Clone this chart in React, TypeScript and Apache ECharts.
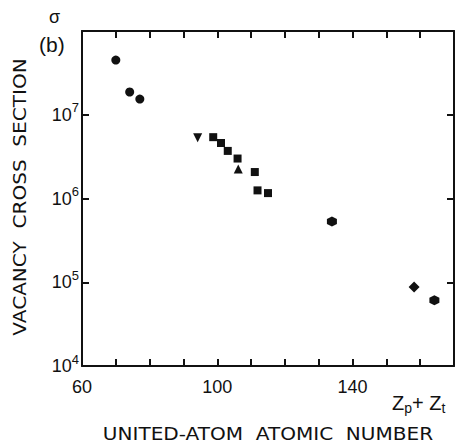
import React, { useEffect, useRef } from "react";
import * as echarts from "echarts";

const xTickLabels = [60, 100, 140];
const yTickExponents = [4, 5, 6, 7];
const circles = [[70, 4.5e7], [74.1, 1.87e7], [77.1, 1.54e7]];
const trianglesDown = [[94.2, 5.3e6]];
const squares = [[98.8, 5.4e6], [101.1, 4.6e6], [103.1, 3.7e6], [106.0, 3.0e6], [111.1, 2.07e6], [111.9, 1.25e6], [115.0, 1.16e6]];
const trianglesUp = [[106.2, 2.25e6]];
const hexagons = [[133.9, 5.3e5], [164.2, 6.1e4]];
const diamonds = [[158.2, 8.8e4]];

const HEX = "path://M0,-1 L0.866,-0.5 L0.866,0.5 L0,1 L-0.866,0.5 L-0.866,-0.5 Z";
const FONT = "Liberation Sans";
const TFONT = "DejaVu Sans";
const INK = "#111";
const G = { left: 82, right: 3, top: 31, bottom: 79 };
const W = 457;
const H = 445;

export default function App() {
  const ref = useRef<HTMLDivElement>(null);
  useEffect(() => {
    const chart = echarts.init(ref.current!, null, { renderer: "svg" });
    const axisLine = () => ({ show: true, onZero: false, lineStyle: { color: INK, width: 2 } });
    const tick = () => ({ show: true, inside: true, length: 7, lineStyle: { color: INK, width: 2 } });
    const sc = (name: string, data: number[][], symbol: string, size: number, rotate = 0) => ({
      name, type: "scatter", data, symbol, symbolSize: size, symbolRotate: rotate,
      itemStyle: { color: INK, opacity: 1 }, xAxisIndex: 0, yAxisIndex: 0,
    });
    chart.setOption({
      animation: false,
      backgroundColor: "#fff",
      grid: { ...G },
      xAxis: [
        {
          type: "value", min: 60, max: 170, interval: 10, position: "bottom",
          axisLine: axisLine(), axisTick: tick(), splitLine: { show: false },
          axisLabel: {
            margin: 12, color: INK, fontFamily: FONT, fontSize: 18,
            formatter: (v: number) => (xTickLabels.includes(v) ? String(v) : ""),
          },
        },
        {
          type: "value", min: 60, max: 170, interval: 10, position: "top",
          axisLine: axisLine(), axisTick: tick(), splitLine: { show: false }, axisLabel: { show: false },
        },
      ],
      yAxis: [
        {
          type: "log", logBase: 10, min: 1e4, max: 1e8, position: "left",
          axisLine: axisLine(), axisTick: tick(), splitLine: { show: false }, minorTick: { show: false },
          axisLabel: {
            margin: 3, color: INK, fontFamily: FONT,
            formatter: (v: number) => {
              const e = Math.round(Math.log10(v));
              return yTickExponents.includes(e) ? `{a|10}{s|${e}}` : "";
            },
            rich: {
              a: { fontSize: 18, fontFamily: FONT, color: INK },
              s: { fontSize: 13, fontFamily: FONT, color: INK, padding: [0, 0, 14, 0] },
            },
          },
        },
        {
          type: "log", logBase: 10, min: 1e4, max: 1e8, position: "right",
          axisLine: axisLine(), axisTick: tick(), splitLine: { show: false }, axisLabel: { show: false },
        },
      ],
      series: [
        sc("circles", circles, "circle", 9),
        sc("trianglesDown", trianglesDown, "triangle", 9, 180),
        sc("squares", squares, "rect", 8),
        sc("trianglesUp", trianglesUp, "triangle", 9),
        sc("hexagons", hexagons, HEX, 10),
        sc("diamonds", diamonds, "diamond", 11),
      ],
      graphic: [
        { type: "text", left: 49, top: 8, style: { text: "σ", fontSize: 18, fontFamily: FONT, fill: INK } },
        { type: "text", left: 39, top: 34, style: { text: "(b)", fontSize: 21, fontFamily: FONT, fill: INK } },
        {
          type: "text", x: 20, y: 197, rotation: Math.PI / 2, scaleX: 1.18,
          style: { text: "VACANCY  CROSS  SECTION", fontSize: 17, fontFamily: TFONT, fill: INK, align: "center", verticalAlign: "middle" },
        },
        {
          type: "text", x: 268, y: 434, scaleX: 1.18,
          style: { text: "UNITED-ATOM  ATOMIC  NUMBER", fontSize: 17, fontFamily: TFONT, fill: INK, align: "center", verticalAlign: "middle" },
        },
        {
          type: "text", x: 392, y: 391,
          style: {
            text: "{z|Z}{sub|p}{z|+ Z}{sub|t}",
            rich: {
              z: { fontSize: 20, fontFamily: FONT, fill: INK },
              sub: { fontSize: 14, fontFamily: FONT, fill: INK, padding: [10, 0, 0, 0] },
            },
          },
        },
      ],
    });
    return () => chart.dispose();
  }, []);
  return <div ref={ref} style={{ position: "fixed", left: 0, top: 0, width: W, height: H, background: "#fff" }} />;
}
